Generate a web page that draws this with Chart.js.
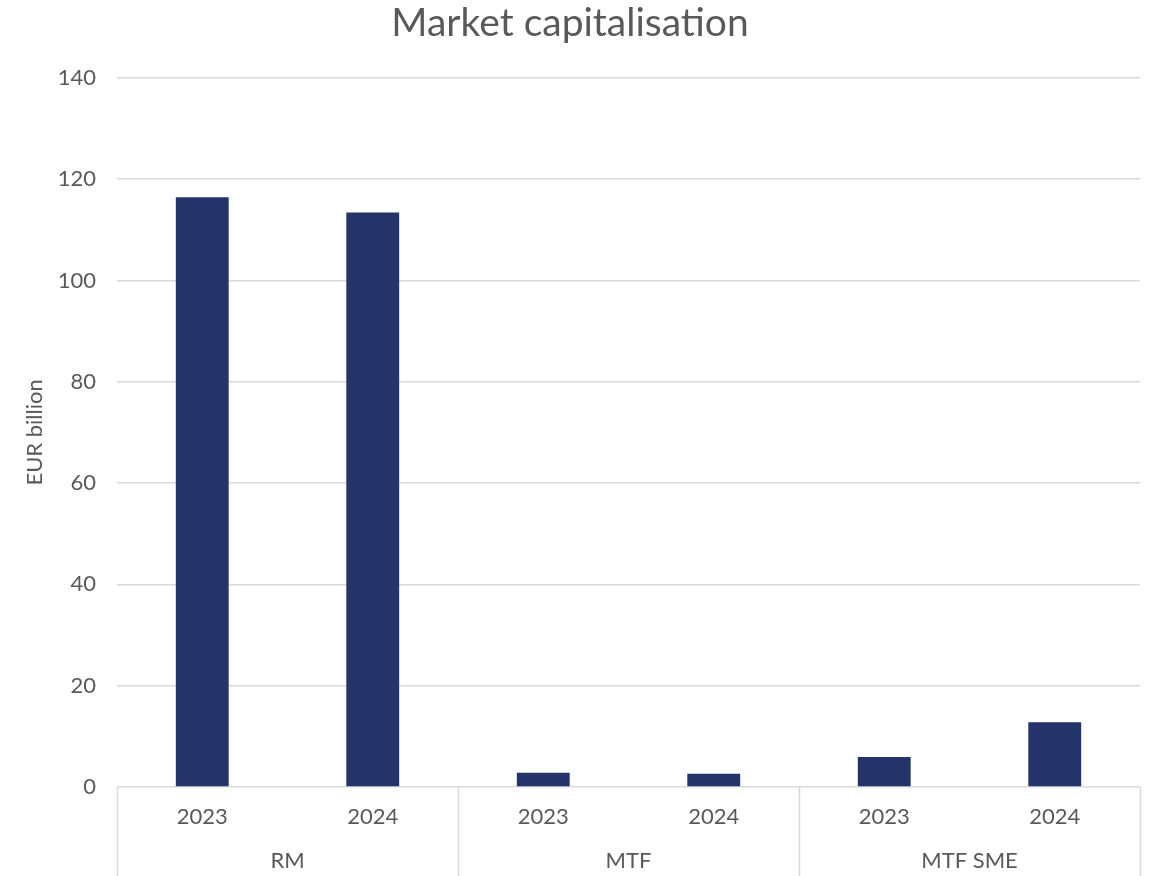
<!DOCTYPE html>
<html>
<head>
<meta charset="utf-8">
<script src="https://cdn.jsdelivr.net/npm/chart.js@4"></script>
<style>
  html, body { margin: 0; padding: 0; background: #fff; }
  canvas { display: block; }
</style>
</head>
<body>
<canvas id="capChart" width="1155" height="876"></canvas>
<script>
// chart data
const years = ["2023", "2024", "2023", "2024", "2023", "2024"];
const groups = ["RM", "MTF", "MTF SME"];
const capValues = [116.4, 113.4, 2.8, 2.6, 5.9, 12.8];

const textColor = "#595959";
const gridColor = "#d9d9d9";
const fontFamily = "Lato, 'Noto Sans', sans-serif";

// draws the second row of x labels (RM / MTF / MTF SME) and the separators
const groupAxis = {
  id: "groupAxis",
  afterDraw(chart) {
    const ctx = chart.ctx;
    const x = chart.scales.x;
    const bottom = chart.chartArea.bottom;
    const step = x.width / years.length;
    const perGroup = years.length / groups.length;

    ctx.save();
    ctx.strokeStyle = gridColor;
    ctx.lineWidth = 1.5;
    for (let i = 0; i <= groups.length; i++) {
      const px = Math.round(x.left + i * perGroup * step) + 0.5;
      ctx.beginPath();
      ctx.moveTo(px, bottom);
      ctx.lineTo(px, chart.height);
      ctx.stroke();
    }

    ctx.fillStyle = textColor;
    ctx.font = "22px " + fontFamily;
    ctx.textAlign = "center";
    ctx.textBaseline = "middle";
    groups.forEach((g, i) => {
      const cx = x.left + (i + 0.5) * perGroup * step;
      ctx.fillText(g, cx, bottom + 74);
    });
    ctx.restore();
  }
};

new Chart(document.getElementById("capChart"), {
  type: "bar",
  data: {
    labels: years,
    datasets: [{
      label: "Market capitalisation",
      data: capValues,
      backgroundColor: "#243369",
      borderWidth: 0,
      barPercentage: 0.62,
      categoryPercentage: 0.5
    }]
  },
  options: {
    responsive: false,
    animation: false,
    layout: { padding: { left: 0, right: 15, top: 0, bottom: 0 } },
    plugins: {
      legend: { display: false },
      tooltip: { enabled: false },
      title: {
        display: true,
        text: "Market capitalisation",
        color: textColor,
        font: { family: fontFamily, size: 39, weight: "normal" },
        padding: { top: 0, bottom: 31 }
      }
    },
    scales: {
      x: {
        grid: { display: false, drawTicks: false },
        border: { display: false },
        ticks: {
          color: textColor,
          font: { family: fontFamily, size: 22 },
          padding: 17,
          maxRotation: 0
        },
        afterFit(scale) { scale.height = 89; }
      },
      y: {
        min: 0,
        max: 140,
        ticks: {
          stepSize: 20,
          color: textColor,
          font: { family: fontFamily, size: 22 },
          padding: 21
        },
        grid: { color: gridColor, lineWidth: 1.5, drawTicks: false },
        border: { display: false },
        title: {
          display: true,
          text: "EUR billion",
          color: textColor,
          font: { family: fontFamily, size: 22 },
          padding: { top: 22, bottom: 0 }
        },
        afterFit(scale) { scale.width = 117; }
      }
    }
  },
  plugins: [groupAxis]
});
</script>
</body>
</html>
